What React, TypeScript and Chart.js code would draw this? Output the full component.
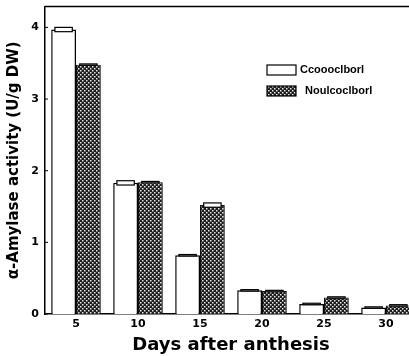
import React, { useEffect, useRef } from "react";
import { Chart, registerables } from "chart.js";
Chart.register(...registerables);

const categories = ["5", "10", "15", "20", "25", "30"];
const seriesA = [3.97, 1.83, 0.82, 0.33, 0.14, 0.09];
const seriesB = [3.48, 1.84, 1.52, 0.32, 0.23, 0.12];
const errA = [0.03, 0.03, 0.01, 0.01, 0.01, 0.01];
const errB = [0.01, 0.01, 0.03, 0.01, 0.01, 0.01];
const legendLabels = ["Ccoooclborl", "Noulcoclborl"];
const yTicks = [0, 1, 2, 3, 4];

function makePattern(): CanvasPattern | string {
  const c = document.createElement("canvas");
  c.width = 4;
  c.height = 4;
  const g = c.getContext("2d");
  if (!g) return "#333";
  g.fillStyle = "#1e1e1e";
  g.fillRect(0, 0, 4, 4);
  g.fillStyle = "#e8e8e8";
  g.fillRect(0, 0, 1.5, 1.5);
  g.fillRect(2, 2, 1.5, 1.5);
  const p = g.createPattern(c, "repeat");
  return p || "#333";
}

const FONT = "'Liberation Sans', Arial, sans-serif";
const WIDE = "'DejaVu Sans', 'Liberation Sans', sans-serif";

export default function App() {
  const ref = useRef<HTMLCanvasElement | null>(null);
  useEffect(() => {
    document.body.style.margin = "0";
    document.body.style.overflow = "hidden";
    const canvas = ref.current;
    if (!canvas) return;
    const pattern = makePattern();
    const errs = [errA, errB];

    const extras = {
      id: "extras",
      afterDatasetsDraw(chart: any) {
        const ctx = chart.ctx;
        const area = chart.chartArea;
        const y = chart.scales.y;
        ctx.save();
        ctx.strokeStyle = "#000";
        ctx.lineWidth = 1.2;
        chart.data.datasets.forEach((ds: any, di: number) => {
          const meta = chart.getDatasetMeta(di);
          meta.data.forEach((bar: any, i: number) => {
            const v = ds.data[i];
            const e = errs[di][i];
            const w = bar.width * 0.7;
            const top = y.getPixelForValue(v + e);
            const bot = y.getPixelForValue(v - e);
            ctx.fillStyle = "#fff";
            ctx.fillRect(bar.x - w / 2, top, w, Math.max(bot - top, 1));
            ctx.strokeRect(bar.x - w / 2, top, w, Math.max(bot - top, 1));
          });
        });
        ctx.lineWidth = 1.5;
        ctx.beginPath();
        ctx.moveTo(area.left, area.top);
        ctx.lineTo(area.right, area.top);
        ctx.stroke();
        ctx.lineWidth = 1;
        yTicks.forEach((t) => {
          const py = y.getPixelForValue(t);
          ctx.beginPath();
          ctx.moveTo(area.left, py);
          ctx.lineTo(area.left + 3, py);
          ctx.stroke();
        });
        const lx = 267;
        const ly = [71, 92];
        ctx.font = "bold 11px " + FONT;
        ctx.textBaseline = "middle";
        ctx.textAlign = "left";
        legendLabels.forEach((lab, i) => {
          ctx.fillStyle = i === 0 ? "#fff" : (pattern as any);
          ctx.fillRect(lx, ly[i], 29, 10);
          ctx.strokeStyle = "#000";
          ctx.lineWidth = 1.2;
          ctx.strokeRect(lx, ly[i], 29, 10);
          ctx.fillStyle = "#000";
          ctx.fillText(lab, lx + (i === 0 ? 33 : 38), ly[i] + 5);
        });
        ctx.restore();
      },
    };

    const chart = new Chart(canvas, {
      type: "bar",
      data: {
        labels: categories,
        datasets: [
          {
            label: legendLabels[0],
            data: seriesA,
            backgroundColor: "#ffffff",
            borderColor: "#000",
            borderWidth: 1.5,
            categoryPercentage: 0.8,
            barPercentage: 1.0,
          },
          {
            label: legendLabels[1],
            data: seriesB,
            backgroundColor: pattern as any,
            borderColor: "#111",
            borderWidth: 1,
            categoryPercentage: 0.8,
            barPercentage: 1.0,
          },
        ],
      },
      options: {
        responsive: false,
        animation: false,
        layout: { padding: { top: 0, right: 3, left: 0, bottom: 0 } },
        plugins: { legend: { display: false }, tooltip: { enabled: false } },
        scales: {
          x: {
            grid: { display: false, drawTicks: false },
            border: { display: true, color: "#000", width: 1.5 },
            ticks: {
              color: "#000",
              padding: 4,
              font: { family: WIDE, size: 11, weight: "bold" },
            },
            title: {
              display: true,
              text: "Days after anthesis",
              color: "#000",
              font: { family: WIDE, size: 18, weight: "bold" },
              padding: { top: 0, bottom: 0 },
            },
            afterFit: (s: any) => {
              s.height = 42;
            },
          },
          y: {
            min: 0,
            max: 4.29,
            afterBuildTicks: (s: any) => {
              s.ticks = yTicks.map((v) => ({ value: v }));
            },
            grid: { display: false, drawTicks: false },
            border: { display: true, color: "#000", width: 1.5 },
            ticks: {
              color: "#000",
              padding: 6,
              font: { family: WIDE, size: 11, weight: "bold" },
            },
            title: {
              display: true,
              text: "α-Amylase activity (U/g DW)",
              color: "#000",
              font: { family: WIDE, size: 15, weight: "bold" },
              padding: { top: 5, bottom: 4 },
            },
            afterFit: (s: any) => {
              s.width = 45;
            },
          },
        },
      },
      plugins: [extras],
    });
    return () => chart.destroy();
  }, []);
  return (
    <div style={{ width: 409, height: 356, overflow: "hidden", background: "#fff" }}>
      <canvas
        ref={ref}
        width={420}
        height={362}
        style={{ width: 420, height: 362, display: "block", marginTop: -6 }}
      />
    </div>
  );
}
